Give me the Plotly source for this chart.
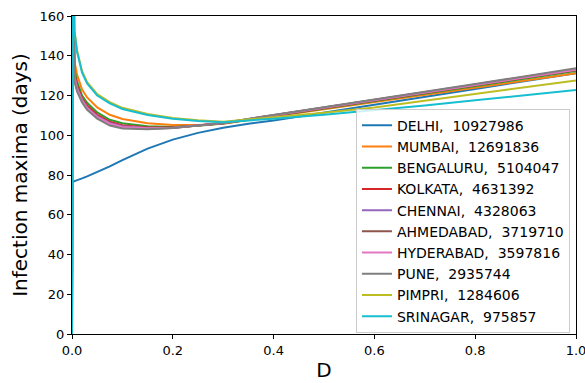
import plotly.graph_objects as go

D = [0, 0.001, 0.005, 0.01, 0.02, 0.03, 0.05, 0.075, 0.1, 0.15, 0.2, 0.25, 0.3,
     0.35, 0.4, 0.5, 0.6, 0.7, 0.8, 0.9, 1.0]

cities = ["DELHI", "MUMBAI", "BENGALURU", "KOLKATA", "CHENNAI",
          "AHMEDABAD", "HYDERABAD", "PUNE", "PIMPRI", "SRINAGAR"]
populations = [10927986, 12691836, 5104047, 4631392, 4328063,
               3719710, 3597816, 2935744, 1284606, 975857]

delhi = [0, 76.5, 76.9, 77.3, 78.3, 79.3, 81.5, 84.3, 87.5, 93.3, 97.8, 101.2, 103.8,
         105.8, 107.4, 111.3, 115.3, 119.3, 123.3, 127.3, 131.2]
mumbai = [0, 200, 137, 130.5, 123, 119, 114, 110.3, 108.2, 106, 105.1, 105.2, 105.8,
          107.6, 109.4, 113.1, 116.7, 120.3, 123.9, 127.6, 131.2]
bengaluru = [0, 200, 133, 127, 120, 116.3, 111.5, 107.8, 106, 104.5, 104.2, 104.8, 105.9,
             107.8, 109.7, 113.5, 117.2, 121.0, 124.7, 128.5, 132.3]
kolkata = [0, 200, 131, 125, 118.5, 115, 110.3, 106.8, 105, 103.9, 103.9, 104.8, 106,
           107.9, 109.8, 113.6, 117.4, 121.2, 125.1, 128.9, 132.8]
chennai = [0, 200, 129.5, 124, 117.8, 114, 109.5, 106.2, 104.5, 103.6, 103.8, 104.8, 106.1,
           108.1, 110.0, 113.8, 117.7, 121.5, 125.4, 129.3, 133.2]
ahmedabad = [0, 200, 128, 123, 117, 113.4, 108.8, 105.5, 103.9, 103.3, 103.7, 104.8, 106.2,
             108.2, 110.1, 114.0, 117.9, 121.7, 125.6, 129.5, 133.4]
hyderabad = [0, 200, 129, 123.5, 117.4, 113.7, 109.2, 105.8, 104.2, 103.5, 103.8, 104.8, 106.1,
             108.1, 110.0, 113.8, 117.6, 121.5, 125.3, 129.2, 133.0]
pune = [0, 200, 127, 122, 116.5, 112.8, 108.3, 104.9, 103.4, 103.0, 103.6, 104.8, 106.2,
        108.2, 110.2, 114.1, 118.0, 121.9, 125.8, 129.7, 133.7]
pimpri = [0, 230, 152.7, 142.7, 132.2, 126.7, 120.7, 116.7, 113.8, 110.7, 108.7, 107.5, 106.8,
          107.9, 109.0, 111.3, 114.0, 117.4, 120.8, 124.2, 127.6]
srinagar = [0, 230, 152, 142, 131.5, 126, 120, 116, 113.2, 110.2, 108.3, 107.2, 106.6,
            107.4, 108.3, 110.3, 112.6, 115.0, 117.6, 120.2, 122.8]

series = [delhi, mumbai, bengaluru, kolkata, chennai, ahmedabad, hyderabad,
          pune, pimpri, srinagar]
colors = ["#1f77b4", "#ff7f0e", "#2ca02c", "#d62728", "#9467bd",
          "#8c564b", "#e377c2", "#7f7f7f", "#bcbd22", "#17becf"]

fig = go.Figure()
for name, pop, ys, c in zip(cities, populations, series, colors):
    fig.add_trace(go.Scatter(
        x=D, y=ys, mode="lines", line=dict(color=c, width=2),
        name=f"{name},\u00a0\u00a0{pop}"))

axis_common = dict(showline=True, mirror=True, linecolor="black", linewidth=1,
                   ticks="outside", ticklen=4, tickcolor="black", showgrid=False,
                   zeroline=False, tickfont=dict(size=13, color="black"),
                   automargin=False, ticklabeloverflow="allow")

fig.update_xaxes(range=[0, 1], tickvals=[0, 0.2, 0.4, 0.6, 0.8, 1.0],
                 ticktext=["0.0", "0.2", "0.4", "0.6", "0.8", "1.0"],
                 title=dict(text="D", font=dict(size=20, color="black"), standoff=6),
                 **axis_common)
fig.update_yaxes(range=[0, 160], tickvals=list(range(0, 161, 20)),
                 title=dict(text="Infection maxima (days)", font=dict(size=20, color="black"), standoff=6),
                 **axis_common)

fig.update_layout(
    width=585, height=383,
    margin=dict(l=72, r=9, t=16, b=49),
    paper_bgcolor="white", plot_bgcolor="white",
    font=dict(family="DejaVu Sans", color="black"),
    showlegend=True,
    legend=dict(x=0.988, y=0.004, xanchor="right", yanchor="bottom",
                bgcolor="rgba(255,255,255,0.8)", bordercolor="#cccccc", borderwidth=1,
                font=dict(size=14, color="black"), itemwidth=30, tracegroupgap=0),
)

fig.write_html("out.html",
               config={"displayModeBar": False},
               post_script="document.body.style.margin='0';document.body.style.padding='0';"
                           "document.body.style.overflow='hidden';")
